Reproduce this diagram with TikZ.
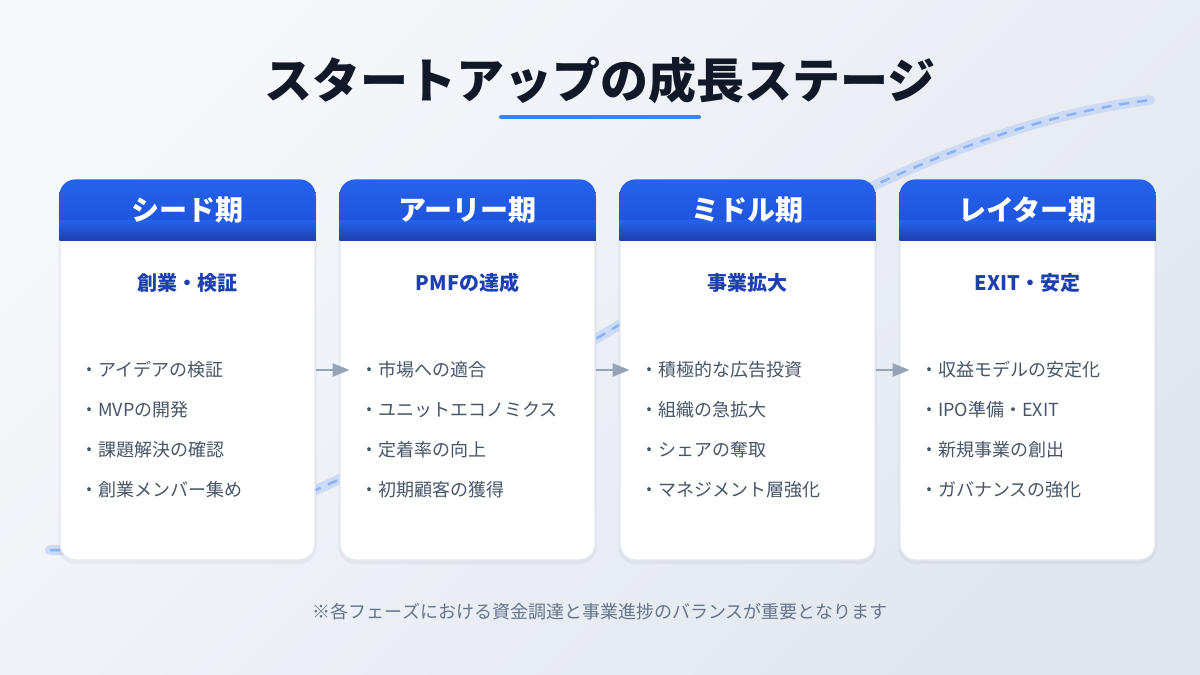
\documentclass[tikz,border=0pt]{standalone}
\usepackage{fontspec}
\setmainfont{Noto Sans CJK JP}
\usetikzlibrary{arrows.meta}
\definecolor{bgA}{HTML}{F6F8FB}
\definecolor{bgB}{HTML}{E2E7EF}
\definecolor{titlec}{HTML}{111827}
\definecolor{accent}{HTML}{3B82F6}
\definecolor{hdA}{HTML}{2563EB}
\definecolor{hdB}{HTML}{1D4ED8}
\definecolor{hdC}{HTML}{1E40AF}
\definecolor{subc}{HTML}{1E40AF}
\definecolor{itemc}{HTML}{475569}
\definecolor{footc}{HTML}{64748B}
\definecolor{arrc}{HTML}{94A3B8}
\definecolor{cardline}{HTML}{E2E8F0}
\definecolor{bandc}{HTML}{CCDAF5}
\definecolor{dashc}{HTML}{8CB2F6}
\tikzset{
  card/.style={draw=cardline, line width=1.2pt, fill=white, rounded corners=16pt,
    minimum width=255pt, minimum height=380pt, inner sep=0pt},
  hdtext/.style={text=white, font=\fontsize{28}{33}\selectfont\bfseries},
  subtext/.style={text=subc, font=\fontsize{20}{24}\selectfont\bfseries},
  itemtext/.style={text=itemc, font=\fontsize{18}{21}\selectfont, anchor=west, inner sep=0pt},
  flow/.style={draw=arrc, line width=2pt, -{Triangle[length=17pt,width=13pt]}},
  band/.style={draw=bandc, line width=10pt, line cap=round},
  banddash/.style={draw=dashc, line width=2.5pt, dash pattern=on 10pt off 8pt},
}
\begin{document}
\begin{tikzpicture}[x=1pt,y=-1pt]
\useasboundingbox (0,0) rectangle (1200,675);
\shade[top color=bgA, bottom color=bgB, shading angle=45] (0,0) rectangle (1200,675);

% growth band
\draw[band] (50,550) .. controls (400,560) and (750,150) .. (1150,100);
\draw[banddash] (50,550) .. controls (400,560) and (750,150) .. (1150,100);

% title
\node[text=titlec, font=\fontsize{48}{56}\selectfont\bfseries] (title) at (600,80) {スタートアップの成長ステージ};
\draw[accent, line width=4pt, line cap=round] (501,117) -- (699,117);

% cards
\foreach \i/\x/\hd/\sub/\a/\b/\c/\d in {
  1/187.5/シード期/創業・検証/アイデアの検証/MVPの開発/課題解決の確認/創業メンバー集め,
  2/467.5/アーリー期/PMFの達成/市場への適合/ユニットエコノミクス/定着率の向上/初期顧客の獲得,
  3/747.5/ミドル期/事業拡大/積極的な広告投資/組織の急拡大/シェアの奪取/マネジメント層強化,
  4/1027.5/レイター期/EXIT・安定/収益モデルの安定化/IPO準備・EXIT/新規事業の創出/ガバナンスの強化}{
  \fill[black, opacity=0.04, rounded corners=17pt] (\x-129,181) rectangle (\x+129,564);
  \node[card] (c\i) at (\x,370) {};
  \begin{scope}
    \clip[rounded corners=16pt] (c\i.north west) rectangle (c\i.south east);
    \shade[top color=hdA, bottom color=hdB] (\x-128,179) rectangle (\x+128,240);
    \shade[top color=hdA, bottom color=hdC] (\x-128,220) rectangle (\x+128,240);
  \end{scope}
  \node[hdtext] (h\i) at (\x,210) {\hd};
  \node[subtext] (s\i) at (\x,283) {\sub};
  \node[itemtext] (ia\i) at (\x-107.5,370) {・\a};
  \node[itemtext] (ib\i) at (\x-107.5,410) {・\b};
  \node[itemtext] (ic\i) at (\x-107.5,450) {・\c};
  \node[itemtext] (id\i) at (\x-107.5,490) {・\d};
}

% flow arrows
\draw[flow] (c1.east) -- ++(34,0);
\draw[flow] (c2.east) -- ++(34,0);
\draw[flow] (c3.east) -- ++(34,0);

% footer
\node[text=footc, font=\fontsize{18}{21}\selectfont] (foot) at (600,612) {※各フェーズにおける資金調達と事業進捗のバランスが重要となります};
\end{tikzpicture}
\end{document}
